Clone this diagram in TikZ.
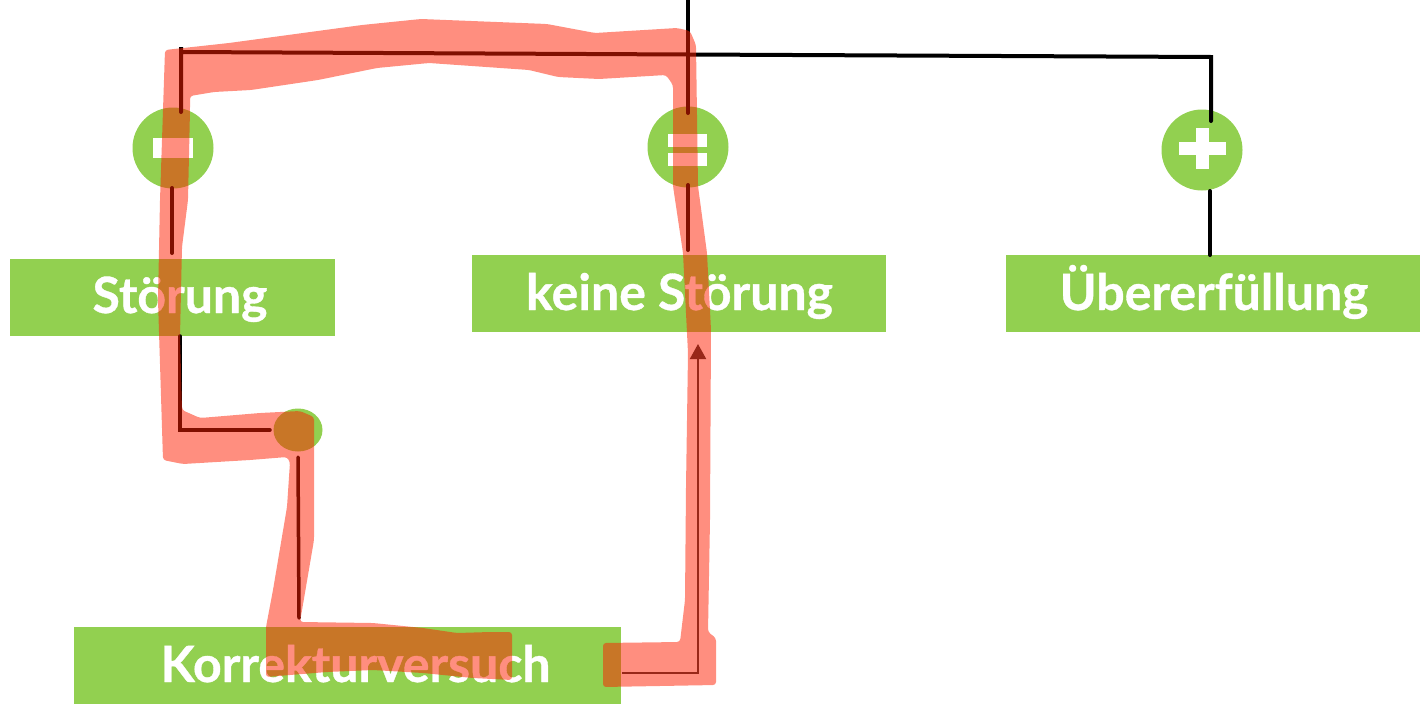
\documentclass[tikz,border=0pt]{standalone}
\usepackage{fontspec}
\setmainfont{Lato}
\newfontfamily\lblfont[FakeBold=0.7]{Lato Bold}
\usetikzlibrary{arrows.meta,shapes.geometric,calc}
\definecolor{grn}{RGB}{146,208,80}
\definecolor{hl}{RGB}{255,30,0}
\definecolor{arrgray}{RGB}{50,50,50}
\begin{document}
\begin{tikzpicture}[x=1pt,y=-1pt,
  box/.style={fill=grn, draw=none, inner sep=0, minimum height=77pt},
  lbl/.style={text=white, font=\fontsize{50}{58}\lblfont, anchor=base, inner sep=0},
  sign/.style={circle, fill=grn, draw=none, inner sep=0, minimum size=81pt},
  conn/.style={line width=4pt, line cap=round, black},
  arr/.style={line width=2pt, arrgray, -{Triangle[length=15pt,width=16pt]}},
  marker/.style={fill=hl, fill opacity=0.5, draw=none, rounded corners=3pt}]
\useasboundingbox (0,0) rectangle (1422,707);

% boxes
\node[box, minimum width=325pt] (stoerung) at (172.5,297.5) {};
\node[box, minimum width=414pt] (keine) at (679,293.5) {};
\node[box, minimum width=414pt] (ueber) at (1213,293.5) {};
\node[box, minimum width=547pt] (korr) at (347.5,665.5) {};
\node[lbl] (tstoerung) at (180,313) {Störung};
\node[lbl] (tkeine) at (679.5,310) {keine Störung};
\node[lbl] (tueber) at (1214,310) {Übererfüllung};
\node[lbl] (tkorr) at (355.5,682) {Korrekturversuch};

% sign circles
\node[sign] (minus) at (173,148) {};
\node[sign] (equal) at (688,147) {};
\node[sign] (plus) at (1202,150) {};
\node[ellipse, fill=grn, inner sep=0, minimum width=49pt, minimum height=43pt] (dot) at (298,430) {};
\fill[white] ($(minus)+(-20,-10)$) rectangle ($(minus)+(20,10)$);
\fill[white] (668,134) rectangle (707,147);
\fill[white] (668,153) rectangle (707,166);
\fill[white] (1179,141.5) rectangle (1226,155);
\fill[white] (1196,128) rectangle (1209,169);

% connector coordinates
\coordinate (top) at (688,0);
\coordinate (tl) at (181,52);
\coordinate (tm) at (688,54.5);
\coordinate (tr) at (1211,57);
\coordinate (mtop) at (181,112);
\coordinate (etop) at (688,113);
\coordinate (ptop) at (1211,121);
\coordinate (mbot) at (172,188);
\coordinate (sbtop) at (172,253);
\coordinate (ebot) at (688,185);
\coordinate (kbtop) at (688,250);
\coordinate (pbot) at (1210,191);
\coordinate (ubtop) at (1210,255);
\coordinate (sbot) at (180,336);
\coordinate (scorner) at (180,430);
\coordinate (dleft) at (270,430);
\coordinate (dbot) at (298,457);
\coordinate (kotop) at (299,618);
\coordinate (kright) at (622,673);
\coordinate (acorner) at (698,673);
\coordinate (atip) at (698,344);

\draw[conn] (top) -- (tm);
\draw[conn] (mtop) -- (181,47) -- (tl) -- (tm) -- (tr) -- (ptop);
\draw[conn] (tm) -- (etop);
\draw[conn] (mbot) -- (sbtop);
\draw[conn] (ebot) -- (kbtop);
\draw[conn] (pbot) -- (ubtop);
\draw[conn, line width=3.5pt] (sbot) -- (scorner) -- (dleft);
\draw[conn, line width=3.5pt] (dbot) -- (kotop);
\draw[arr] (kright) -- (acorner) -- (atip);

% highlighter stroke
\fill[marker] (603,643) -- (680,642) -- (685,600) -- (686,487) -- (688,353) -- (683,253) -- (673,186) -- (673,85) -- (666,75) -- (599,79) -- (558,77) -- (529,70) -- (429,63) -- (377,68) -- (318,80) -- (251,90) -- (214,92) -- (190,96) -- (190,110) -- (188,200) -- (182,247) -- (180,336) -- (182,410) -- (200,418) -- (260,413) -- (300,411) -- (314,417) -- (314,540) -- (300,622) -- (373,623) -- (423,628) -- (457,633) -- (490,632) -- (512,632) -- (512,680) -- (473,678) -- (423,673) -- (373,670) -- (327,672) -- (290,675) -- (266,677) -- (266,627) -- (273,590) -- (287,507) -- (290,462) -- (287,457) -- (250,460) -- (183,464) -- (163,460) -- (158,300) -- (160,200) -- (165,50) -- (229,43) -- (362,25) -- (421,19) -- (547,24) -- (595,33) -- (677,28) -- (690,31) -- (696,45) -- (698,186) -- (707,253) -- (711,330) -- (710,520) -- (708,632) -- (716,638) -- (716,685) -- (603,687) -- cycle;
\end{tikzpicture}
\end{document}
